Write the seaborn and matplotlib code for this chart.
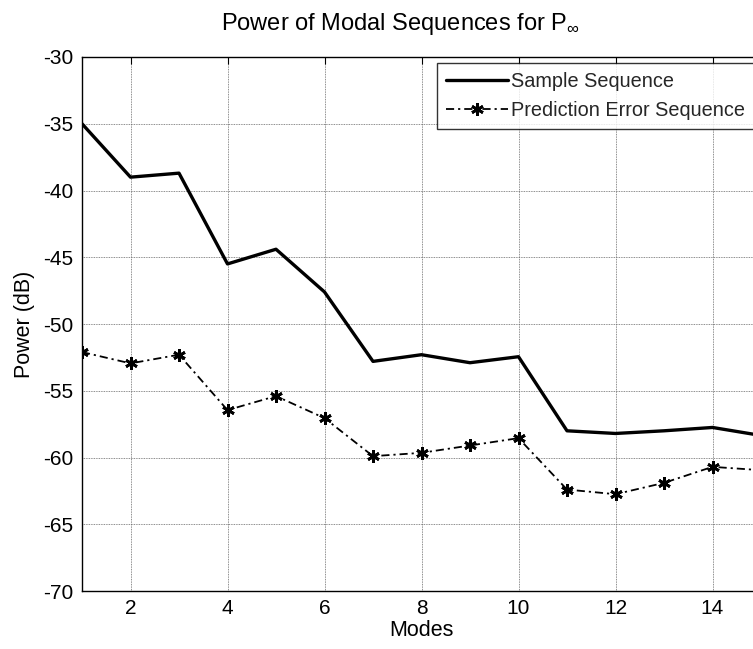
import numpy as np
import pandas as pd
import matplotlib
matplotlib.use("Agg")
import matplotlib.pyplot as plt
import seaborn as sns

modes = list(range(1, 16))
sample_seq = [-35.0, -39.0, -38.7, -45.5, -44.4, -47.6, -52.8, -52.3, -52.9, -52.45,
              -58.0, -58.2, -58.0, -57.75, -58.35]
pred_err_seq = [-52.1, -52.95, -52.3, -56.45, -55.4, -57.05, -59.9, -59.65, -59.1, -58.55,
                -62.4, -62.75, -61.9, -60.7, -60.95]
xticks = [2, 4, 6, 8, 10, 12, 14]
yticks = [-70, -65, -60, -55, -50, -45, -40, -35, -30]

sns.set_theme(style="white")
plt.rcParams['font.family'] = ['Liberation Sans', 'DejaVu Sans']
plt.rcParams['mathtext.fontset'] = 'custom'
plt.rcParams['mathtext.rm'] = 'Liberation Sans'
plt.rcParams['axes.unicode_minus'] = False

W, H = 753, 649
fig = plt.figure(figsize=(W / 100, H / 100), dpi=100)
left, right, top, bottom = 82, 761, 57, 591
ax = fig.add_axes([left / W, 1 - bottom / H, (right - left) / W, (bottom - top) / H])

df1 = pd.DataFrame({"Modes": modes, "Power": sample_seq})
df2 = pd.DataFrame({"Modes": modes, "Power": pred_err_seq})

sns.lineplot(data=df1, x="Modes", y="Power", ax=ax, color="black", linewidth=2.4,
             label="Sample Sequence")
sns.lineplot(data=df2, x="Modes", y="Power", ax=ax, color="black", linewidth=1.3,
             linestyle=(0, (4.5, 2.2, 1.2, 2.2)), marker=(6, 2, 0), markersize=9,
             markeredgewidth=2.0, markeredgecolor="black", markerfacecolor="black",
             label="Prediction Error Sequence")

ax.set_xlim(1, 15)
ax.set_ylim(-70, -30)
ax.set_xticks(xticks)
ax.set_yticks(yticks)
ax.tick_params(direction="in", length=5, width=0.8, top=True, right=True,
               labelsize=15, colors="black", pad=6)
ax.grid(True, linestyle=(0, (1, 1)), color="#666666", linewidth=0.6)
for s in ax.spines.values():
    s.set_color("black")
    s.set_linewidth(1.0)

ax.set_xlabel("Modes", fontsize=15.5, color="black", labelpad=1)
ax.set_ylabel("Power (dB)", fontsize=15.5, color="black", labelpad=6)
fig.text(400 / W, 1 - 24 / H, r"Power of Modal Sequences for P$_{\infty}$",
         ha="center", va="center", fontsize=17, color="black")

leg = ax.legend(loc="upper left", bbox_to_anchor=(437 / W, 1 - 63 / H),
                bbox_transform=fig.transFigure, fontsize=14.3, frameon=True,
                fancybox=False, edgecolor="black", handlelength=3.1,
                handletextpad=0.2, borderpad=0.45, labelspacing=0.5,
                borderaxespad=0)
leg.get_frame().set_linewidth(1.0)

fig.savefig("out.png", dpi=100)
